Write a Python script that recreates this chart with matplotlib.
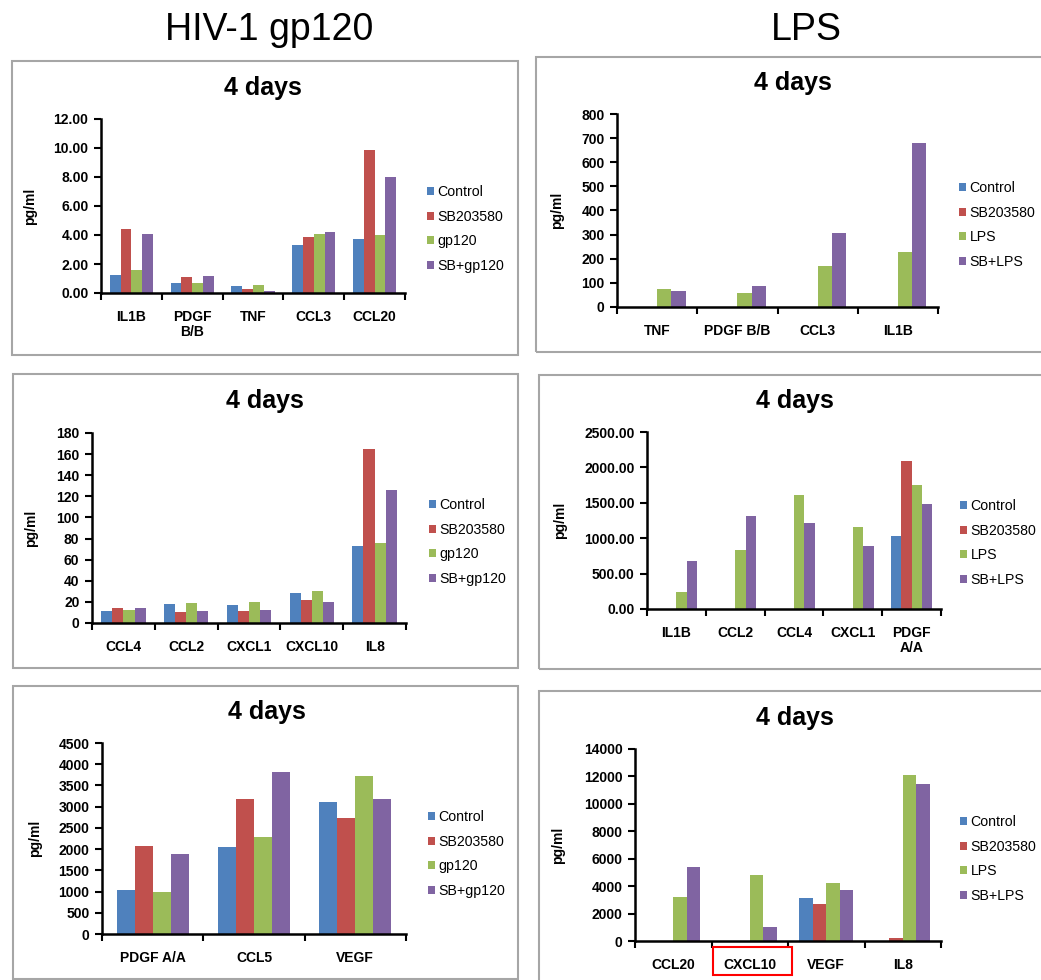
import numpy as np
import matplotlib
matplotlib.use("Agg")
import matplotlib.pyplot as plt
from matplotlib.patches import Rectangle
from matplotlib.ticker import FormatStrFormatter

plt.rcParams['font.family'] = ['Liberation Sans', 'DejaVu Sans']

W, H = 1041, 980
colors = ['#4F81BD', '#C0504D', '#9BBB59', '#8064A2']
gp_series = ['Control', 'SB203580', 'gp120', 'SB+gp120']
lps_series = ['Control', 'SB203580', 'LPS', 'SB+LPS']

# 各面板数据 (pg/ml)
p1_cats = ['IL1B', 'PDGF\nB/B', 'TNF', 'CCL3', 'CCL20']
p1_control = [1.26, 0.69, 0.46, 3.33, 3.70]
p1_sb = [4.44, 1.13, 0.25, 3.86, 9.84]
p1_gp = [1.56, 0.69, 0.53, 4.09, 4.00]
p1_sbgp = [4.09, 1.20, 0.16, 4.20, 8.00]

p2_cats = ['TNF', 'PDGF B/B', 'CCL3', 'IL1B']
p2_control = [0, 0, 0, 0]
p2_sb = [0, 0, 0, 0]
p2_lps = [73, 57, 169, 226]
p2_sblps = [65, 85, 305, 680]

p3_cats = ['CCL4', 'CCL2', 'CXCL1', 'CXCL10', 'IL8']
p3_control = [11, 18, 17, 28.4, 72.5]
p3_sb = [14.2, 10, 11, 22, 164.5]
p3_gp = [12, 19, 20, 30.3, 75.5]
p3_sbgp = [14.2, 11, 12, 20, 126]

p4_cats = ['IL1B', 'CCL2', 'CCL4', 'CXCL1', 'PDGF\nA/A']
p4_control = [0, 0, 0, 0, 1033]
p4_sb = [0, 0, 0, 0, 2090]
p4_lps = [236, 835, 1608, 1156, 1745]
p4_sblps = [684, 1307, 1217, 896, 1486]

p5_cats = ['PDGF A/A', 'CCL5', 'VEGF']
p5_control = [1025, 2058, 3114]
p5_sb = [2081, 3169, 2739]
p5_gp = [978, 2277, 3717]
p5_sbgp = [1878, 3818, 3185]

p6_cats = ['CCL20', 'CXCL10', 'VEGF', 'IL8']
p6_control = [0, 0, 3111, 0]
p6_sb = [0, 0, 2722, 194]
p6_lps = [3184, 4837, 4205, 12081]
p6_sblps = [5372, 997, 3743, 11473]

fig = plt.figure(figsize=(W / 100, H / 100), dpi=100)


def px_axes(x0, y0, x1, y1):
    return fig.add_axes([x0 / W, 1 - y1 / H, (x1 - x0) / W, (y1 - y0) / H])


def panel(frame, box, cats, series, labels, ymax, ystep, fmt, title_xy, ylab_x, leg_xy):
    # 灰色外框
    fx0, fy0, fx1, fy1 = frame
    fig.patches.append(Rectangle((fx0 / W, 1 - fy1 / H), (fx1 - fx0) / W, (fy1 - fy0) / H,
                                 transform=fig.transFigure, fill=False,
                                 edgecolor='#a6a6a6', linewidth=1.5))
    ax = px_axes(*box)
    n = len(cats)
    x = np.arange(n)
    bw = 0.71 / 4
    handles = []
    for i, (vals, lab) in enumerate(zip(series, labels)):
        b = ax.bar(x + (i - 1.5) * bw, vals, bw, color=colors[i], label=lab, linewidth=0)
        handles.append(b)
    ax.set_xlim(-0.5, n - 0.5)
    ax.set_ylim(0, ymax)
    ax.set_yticks(np.arange(0, ymax + ystep / 2, ystep))
    ax.yaxis.set_major_formatter(FormatStrFormatter(fmt))
    ax.set_xticks(x)
    ax.set_xticklabels(cats, fontsize=10, fontweight='bold', linespacing=1.1)
    ax.set_xticks(np.arange(n + 1) - 0.5, minor=True)
    ax.tick_params(axis='x', which='major', length=0, pad=12)
    ax.tick_params(axis='x', which='minor', length=5, width=1.5, direction='out')
    ax.tick_params(axis='y', length=5, width=1.5, direction='out', pad=4, labelsize=10)
    for t in ax.get_yticklabels():
        t.set_fontweight('bold')
    for s in ['top', 'right']:
        ax.spines[s].set_visible(False)
    for s in ['left', 'bottom']:
        ax.spines[s].set_linewidth(1.8)
    ax.set_ylabel('pg/ml', fontsize=10, fontweight='bold')
    ax.yaxis.set_label_coords((ylab_x - box[0]) / (box[2] - box[0]), 0.5)
    fig.text(title_xy[0] / W, 1 - title_xy[1] / H, '4 days', fontsize=18,
             fontweight='bold', ha='center', va='center')
    ax.legend(handles, labels, loc='center left',
              bbox_to_anchor=(leg_xy[0] / W, 1 - leg_xy[1] / H),
              bbox_transform=fig.transFigure, frameon=False, fontsize=10.2,
              handlelength=0.5, handleheight=0.5, handletextpad=0.25,
              labelspacing=0.74, borderpad=0, borderaxespad=0)
    return ax


fig.text(269 / W, 1 - 30 / H, 'HIV-1 gp120', fontsize=27, ha='center', va='center')
fig.text(806 / W, 1 - 30 / H, 'LPS', fontsize=27, ha='center', va='center')

panel((12, 61, 518, 355), (101, 119, 405, 293), p1_cats,
      [p1_control, p1_sb, p1_gp, p1_sbgp], gp_series, 12, 2, '%.2f',
      (263, 88), 37, (427, 229))
panel((536, 57, 1045, 352), (617, 114, 938, 307), p2_cats,
      [p2_control, p2_sb, p2_lps, p2_sblps], lps_series, 800, 100, '%d',
      (793, 83), 564, (959, 225))
panel((13, 374, 518, 668), (92, 433, 406, 623), p3_cats,
      [p3_control, p3_sb, p3_gp, p3_sbgp], gp_series, 180, 20, '%d',
      (265, 401), 38, (429, 542))
panel((539, 375, 1045, 669), (647, 432, 941, 609), p4_cats,
      [p4_control, p4_sb, p4_lps, p4_sblps], lps_series, 2500, 500, '%.2f',
      (795, 401), 567, (960, 543))
panel((13, 686, 518, 979), (102, 743, 406, 934), p5_cats,
      [p5_control, p5_sb, p5_gp, p5_sbgp], gp_series, 4500, 500, '%d',
      (267, 712), 42, (428, 854))
panel((539, 691, 1045, 985), (635, 749, 941, 941), p6_cats,
      [p6_control, p6_sb, p6_lps, p6_sblps], lps_series, 14000, 2000, '%d',
      (795, 718), 565, (960, 859))

# CXCL10 红框
fig.patches.append(Rectangle((713 / W, 1 - 975 / H), 79 / W, 28 / H,
                             transform=fig.transFigure, fill=False,
                             edgecolor='#ff0000', linewidth=1.5))

fig.savefig('out.png', dpi=100)
